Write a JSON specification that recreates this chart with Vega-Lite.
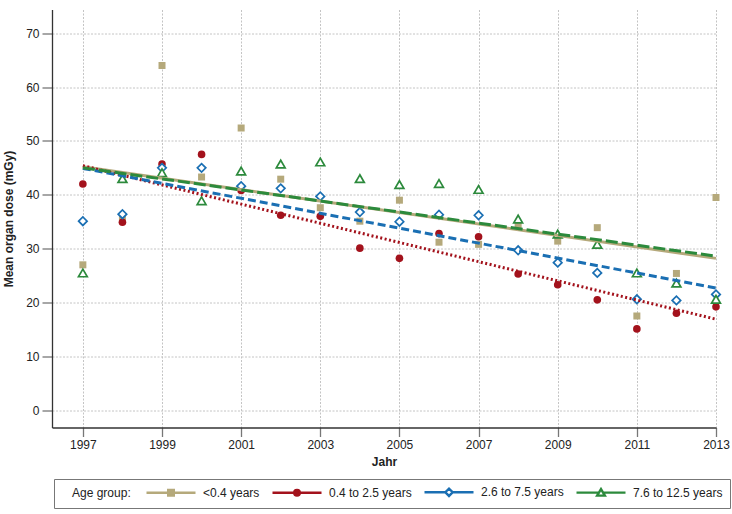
{
  "$schema": "https://vega.github.io/schema/vega-lite/v6.json",
  "width": 664,
  "height": 418,
  "autosize": {"type": "none"},
  "padding": {"left": 52, "top": 9.5, "right": 16, "bottom": 86.5},
  "background": "white",
  "config": {
    "font": "Liberation Sans, Arial, sans-serif",
    "view": {"stroke": null},
    "axis": {
      "labelFontSize": 12,
      "titleFontSize": 12,
      "titleFontWeight": "bold",
      "labelColor": "#222",
      "titleColor": "#222",
      "domainColor": "#333",
      "domainWidth": 1.3,
      "tickColor": "#777",
      "tickWidth": 1.3,
      "gridColor": "#c4c4c4",
      "gridDash": [2, 1.5],
      "gridWidth": 1
    }
  },
  "datasets": {
    "points": [
      {"year": 1997, "group": "<0.4 years", "dose": 27.0},
      {"year": 1998, "group": "<0.4 years", "dose": 35.7},
      {"year": 1999, "group": "<0.4 years", "dose": 64.0},
      {"year": 2000, "group": "<0.4 years", "dose": 43.3},
      {"year": 2001, "group": "<0.4 years", "dose": 52.4},
      {"year": 2002, "group": "<0.4 years", "dose": 42.9},
      {"year": 2003, "group": "<0.4 years", "dose": 37.6},
      {"year": 2004, "group": "<0.4 years", "dose": 35.1},
      {"year": 2005, "group": "<0.4 years", "dose": 39.0},
      {"year": 2006, "group": "<0.4 years", "dose": 31.2},
      {"year": 2007, "group": "<0.4 years", "dose": 30.8},
      {"year": 2008, "group": "<0.4 years", "dose": 34.3},
      {"year": 2009, "group": "<0.4 years", "dose": 31.4},
      {"year": 2010, "group": "<0.4 years", "dose": 33.9},
      {"year": 2011, "group": "<0.4 years", "dose": 17.5},
      {"year": 2012, "group": "<0.4 years", "dose": 25.4},
      {"year": 2013, "group": "<0.4 years", "dose": 39.5},
      {"year": 1997, "group": "0.4 to 2.5 years", "dose": 42.0},
      {"year": 1998, "group": "0.4 to 2.5 years", "dose": 34.9},
      {"year": 1999, "group": "0.4 to 2.5 years", "dose": 45.7},
      {"year": 2000, "group": "0.4 to 2.5 years", "dose": 47.5},
      {"year": 2001, "group": "0.4 to 2.5 years", "dose": 40.8},
      {"year": 2002, "group": "0.4 to 2.5 years", "dose": 36.2},
      {"year": 2003, "group": "0.4 to 2.5 years", "dose": 36.0},
      {"year": 2004, "group": "0.4 to 2.5 years", "dose": 30.1},
      {"year": 2005, "group": "0.4 to 2.5 years", "dose": 28.2},
      {"year": 2006, "group": "0.4 to 2.5 years", "dose": 32.8},
      {"year": 2007, "group": "0.4 to 2.5 years", "dose": 32.2},
      {"year": 2008, "group": "0.4 to 2.5 years", "dose": 25.3},
      {"year": 2009, "group": "0.4 to 2.5 years", "dose": 23.3},
      {"year": 2010, "group": "0.4 to 2.5 years", "dose": 20.5},
      {"year": 2011, "group": "0.4 to 2.5 years", "dose": 15.1},
      {"year": 2012, "group": "0.4 to 2.5 years", "dose": 18.0},
      {"year": 2013, "group": "0.4 to 2.5 years", "dose": 19.2},
      {"year": 1997, "group": "2.6 to 7.5 years", "dose": 35.1},
      {"year": 1998, "group": "2.6 to 7.5 years", "dose": 36.4},
      {"year": 1999, "group": "2.6 to 7.5 years", "dose": 45.0},
      {"year": 2000, "group": "2.6 to 7.5 years", "dose": 45.0},
      {"year": 2001, "group": "2.6 to 7.5 years", "dose": 41.6},
      {"year": 2002, "group": "2.6 to 7.5 years", "dose": 41.2},
      {"year": 2003, "group": "2.6 to 7.5 years", "dose": 39.7},
      {"year": 2004, "group": "2.6 to 7.5 years", "dose": 36.8},
      {"year": 2005, "group": "2.6 to 7.5 years", "dose": 35.0},
      {"year": 2006, "group": "2.6 to 7.5 years", "dose": 36.3},
      {"year": 2007, "group": "2.6 to 7.5 years", "dose": 36.2},
      {"year": 2008, "group": "2.6 to 7.5 years", "dose": 29.7},
      {"year": 2009, "group": "2.6 to 7.5 years", "dose": 27.4},
      {"year": 2010, "group": "2.6 to 7.5 years", "dose": 25.5},
      {"year": 2011, "group": "2.6 to 7.5 years", "dose": 20.6},
      {"year": 2012, "group": "2.6 to 7.5 years", "dose": 20.4},
      {"year": 2013, "group": "2.6 to 7.5 years", "dose": 21.5},
      {"year": 1997, "group": "7.6 to 12.5 years", "dose": 25.5},
      {"year": 1998, "group": "7.6 to 12.5 years", "dose": 43.0},
      {"year": 1999, "group": "7.6 to 12.5 years", "dose": 44.1},
      {"year": 2000, "group": "7.6 to 12.5 years", "dose": 38.9},
      {"year": 2001, "group": "7.6 to 12.5 years", "dose": 44.4},
      {"year": 2002, "group": "7.6 to 12.5 years", "dose": 45.7},
      {"year": 2003, "group": "7.6 to 12.5 years", "dose": 46.1},
      {"year": 2004, "group": "7.6 to 12.5 years", "dose": 43.0},
      {"year": 2005, "group": "7.6 to 12.5 years", "dose": 41.9},
      {"year": 2006, "group": "7.6 to 12.5 years", "dose": 42.1},
      {"year": 2007, "group": "7.6 to 12.5 years", "dose": 41.0},
      {"year": 2008, "group": "7.6 to 12.5 years", "dose": 35.5},
      {"year": 2009, "group": "7.6 to 12.5 years", "dose": 32.7},
      {"year": 2010, "group": "7.6 to 12.5 years", "dose": 30.8},
      {"year": 2011, "group": "7.6 to 12.5 years", "dose": 25.5},
      {"year": 2012, "group": "7.6 to 12.5 years", "dose": 23.6},
      {"year": 2013, "group": "7.6 to 12.5 years", "dose": 20.6}
    ],
    "trends": [
      {"year": 1997, "group": "<0.4 years", "dose": 45.2},
      {"year": 2013, "group": "<0.4 years", "dose": 28.2},
      {"year": 1997, "group": "0.4 to 2.5 years", "dose": 45.4},
      {"year": 2013, "group": "0.4 to 2.5 years", "dose": 16.9},
      {"year": 1997, "group": "2.6 to 7.5 years", "dose": 44.9},
      {"year": 2013, "group": "2.6 to 7.5 years", "dose": 22.7},
      {"year": 1997, "group": "7.6 to 12.5 years", "dose": 45.0},
      {"year": 2013, "group": "7.6 to 12.5 years", "dose": 28.6}
    ]
  },
  "encoding": {
    "x": {
      "field": "year", "type": "quantitative",
      "scale": {"domain": [1996.22, 2013], "nice": false, "zero": false},
      "axis": {
        "values": [1997, 1999, 2001, 2003, 2005, 2007, 2009, 2011, 2013],
        "format": "d", "title": "Jahr", "tickSize": 9, "labelPadding": 3,
        "titlePadding": 6, "grid": true, "labelFlush": false
      }
    },
    "y": {
      "field": "dose", "type": "quantitative",
      "scale": {"domain": [-3.2, 74.4], "nice": false, "zero": false},
      "axis": {
        "values": [0, 10, 20, 30, 40, 50, 60, 70],
        "title": "Mean organ dose (mGy)", "tickSize": 10, "labelPadding": 3,
        "titlePadding": 10, "grid": true
      }
    }
  },
  "layer": [
    {
      "data": {"name": "points"},
      "transform": [{"filter": "datum.group === '<0.4 years'"}],
      "mark": {"type": "point", "shape": "square", "filled": true, "opacity": 1, "size": 49, "color": "#b5a97b"}
    },
    {
      "data": {"name": "points"},
      "transform": [{"filter": "datum.group === '0.4 to 2.5 years'"}],
      "mark": {"type": "point", "shape": "circle", "filled": true, "opacity": 1, "size": 58, "color": "#a3121c"}
    },
    {
      "data": {"name": "points"},
      "transform": [{"filter": "datum.group === '2.6 to 7.5 years'"}],
      "mark": {"type": "point", "shape": "diamond", "opacity": 1, "size": 72, "stroke": "#1a6fb3", "fill": "#ffffff", "strokeWidth": 1.7}
    },
    {
      "data": {"name": "points"},
      "transform": [{"filter": "datum.group === '7.6 to 12.5 years'"}],
      "mark": {"type": "point", "shape": "triangle-up", "opacity": 1, "size": 78, "stroke": "#2c8a3c", "fill": "#ffffff", "strokeWidth": 1.7}
    },
    {
      "data": {"name": "trends"},
      "transform": [{"filter": "datum.group === '<0.4 years'"}],
      "mark": {"type": "line", "strokeWidth": 3},
      "encoding": {
        "stroke": {
          "field": "group", "type": "nominal",
          "scale": {
            "domain": ["<0.4 years", "0.4 to 2.5 years", "2.6 to 7.5 years", "7.6 to 12.5 years"],
            "range": ["#b5a97b", "#a3121c", "#1a6fb3", "#2c8a3c"]
          },
          "legend": {
            "title": "Age group:",
            "orient": "none",
            "legendX": 2,
            "legendY": 469.5,
            "direction": "horizontal",
            "columns": 4,
            "titleOrient": "left",
            "titleFontSize": 12,
            "titleFontWeight": "normal",
            "titleColor": "#222",
            "titlePadding": 25,
            "labelFontSize": 12,
            "labelColor": "#222",
            "symbolSize": 49,
            "symbolStrokeWidth": 2.4,
            "symbolOffset": 20,
            "labelOffset": 26,
            "columnPadding": 7,
            "padding": 7,
            "strokeColor": "#777",
            "fillColor": "#ffffff",
            "cornerRadius": 0,
            "encode": {
              "symbols": {
                "update": {
                  "shape": {"signal": "datum.value === '<0.4 years' ? 'M-7,0H-0.8M0.8,0H7M-0.8,-0.8H0.8V0.8H-0.8Z' : datum.value === '0.4 to 2.5 years' ? 'M-7,0H-0.8M0.8,0H7M-0.8,0A0.8,0.8,0,1,0,0.8,0A0.8,0.8,0,1,0,-0.8,0Z' : datum.value === '2.6 to 7.5 years' ? 'M-7,0H-1.05M1.05,0H7M-1.05,0L0,-1.05L1.05,0L0,1.05Z' : 'M-7,0H-0.55M0.55,0H7M0,-1L1.1,0.85H-1.1Z'"},
                  "fill": {"signal": "datum.value === '<0.4 years' ? '#b5a97b' : datum.value === '0.4 to 2.5 years' ? '#a3121c' : '#ffffff'"},
                  "strokeWidth": {"value": 2.4},
                  "size": {"value": 49}
                }
              },
              "title": {
                "update": {"dx": {"value": 11}}
              }
            }
          }
        }
      }
    },
    {
      "data": {"name": "trends"},
      "transform": [{"filter": "datum.group === '0.4 to 2.5 years'"}],
      "mark": {"type": "line", "strokeWidth": 3, "stroke": "#a3121c", "strokeDash": [2, 2.5]}
    },
    {
      "data": {"name": "trends"},
      "transform": [{"filter": "datum.group === '2.6 to 7.5 years'"}],
      "mark": {"type": "line", "strokeWidth": 3, "stroke": "#1a6fb3", "strokeDash": [8, 4]}
    },
    {
      "data": {"name": "trends"},
      "transform": [{"filter": "datum.group === '7.6 to 12.5 years'"}],
      "mark": {"type": "line", "strokeWidth": 3, "stroke": "#2c8a3c", "strokeDash": [12, 4]}
    }
  ]
}
